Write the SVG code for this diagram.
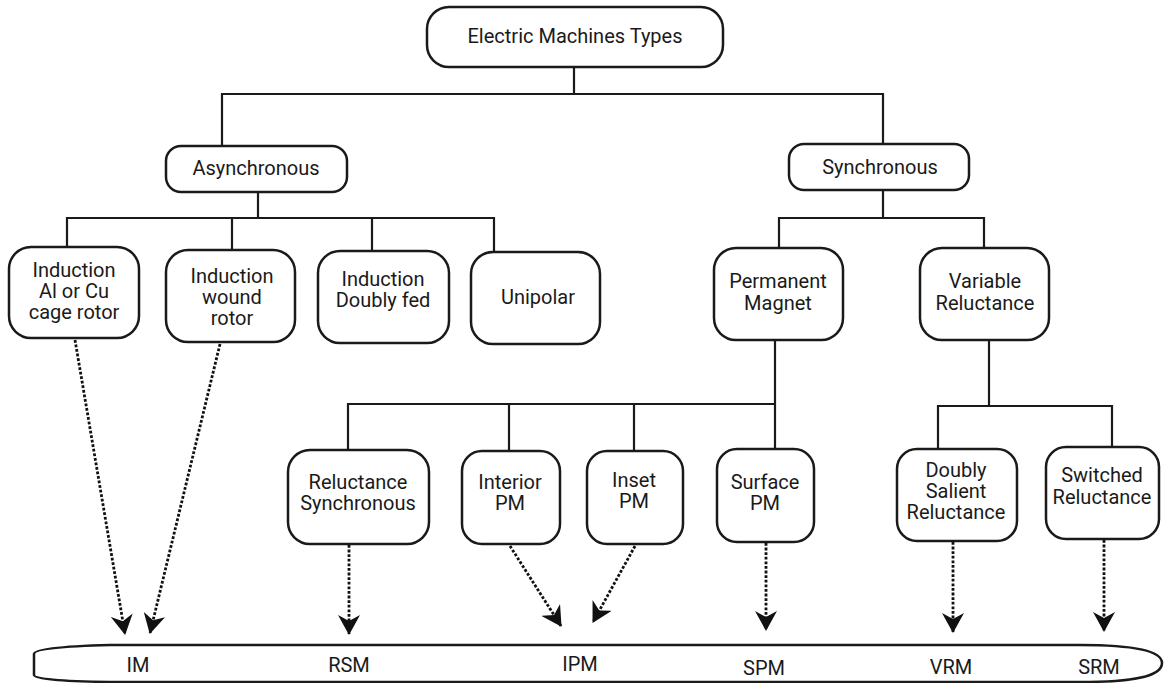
<svg xmlns="http://www.w3.org/2000/svg" width="1164" height="683" viewBox="0 0 1164 683">
<defs>
<style>
.box{fill:#fff;stroke:#1a1a1a;stroke-width:2.5}
.t{font-family:Roboto,"Liberation Sans",sans-serif;font-size:20px;fill:#1a1a1a;text-anchor:middle}
.ln{fill:none;stroke:#1a1a1a;stroke-width:2.2}
.dot{fill:none;stroke:#111;stroke-width:2.8;stroke-dasharray:2.8 1.8;marker-end:url(#ah)}
</style>
<marker id="ah" viewBox="0 0 20 22" refX="19" refY="11" markerWidth="20" markerHeight="22" markerUnits="userSpaceOnUse" orient="auto">
<path d="M0,0 L20,11 L0,22 L6,11 Z" fill="#111"/>
</marker>
</defs>
<rect width="1164" height="683" fill="#fff"/>

<g id="connectors">
<path class="ln" d="M574,67 V94 M222,146 V94 H883 V144"/>
<path class="ln" d="M258,192 V218 M67,247 V218 H494 V252 M232,218 V250 M372,218 V251"/>
<path class="ln" d="M883,190 V218 M779,248 V218 H984 V248"/>
<path class="ln" d="M775,340 V449 M348,450 V404 H775 M509,404 V451 M634,404 V451"/>
<path class="ln" d="M989,340 V406 M938,449 V406 H1112 V447"/>
<path class="dot" d="M75,340 L125,634"/>
<path class="dot" d="M220,344 L150,633"/>
<path class="dot" d="M349,545 L349,634"/>
<path class="dot" d="M510,546 L561,626"/>
<path class="dot" d="M635,546 L593,622"/>
<path class="dot" d="M766,543 L766,630"/>
<path class="dot" d="M953,542 L953,632"/>
<path class="dot" d="M1104,540 L1104,631"/>
</g>

<g id="n-root"><rect class="box" x="427" y="7" width="296" height="60" rx="22"/><text class="t" x="575" y="43">Electric Machines Types</text></g>
<g id="n-async"><rect class="box" x="166" y="146" width="181" height="46" rx="15"/><text class="t" x="256" y="175">Asynchronous</text></g>
<g id="n-sync"><rect class="box" x="789" y="144" width="180" height="46" rx="15"/><text class="t" x="880" y="174">Synchronous</text></g>

<g id="n-ind-cage"><rect class="box" x="9" y="247" width="130" height="91" rx="22"/><text class="t" x="74" y="277">Induction</text><text class="t" x="74" y="298">Al or Cu</text><text class="t" x="74" y="319">cage rotor</text></g>
<g id="n-ind-wound"><rect class="box" x="166" y="250" width="129" height="92" rx="22"/><text class="t" x="232" y="283">Induction</text><text class="t" x="232" y="304">wound</text><text class="t" x="232" y="325">rotor</text></g>
<g id="n-ind-dfed"><rect class="box" x="318" y="251" width="131" height="92" rx="22"/><text class="t" x="383" y="286">Induction</text><text class="t" x="383" y="307">Doubly fed</text></g>
<g id="n-unipolar"><rect class="box" x="471" y="252" width="129" height="92" rx="22"/><text class="t" x="538" y="304">Unipolar</text></g>

<g id="n-pm"><rect class="box" x="714" y="248" width="129" height="92" rx="22"/><text class="t" x="778" y="288">Permanent</text><text class="t" x="778" y="310">Magnet</text></g>
<g id="n-vr"><rect class="box" x="920" y="248" width="129" height="92" rx="22"/><text class="t" x="985" y="288">Variable</text><text class="t" x="985" y="310">Reluctance</text></g>

<g id="n-relsync"><rect class="box" x="288" y="450" width="141" height="94" rx="22"/><text class="t" x="358" y="489">Reluctance</text><text class="t" x="358" y="510">Synchronous</text></g>
<g id="n-interior"><rect class="box" x="462" y="451" width="98" height="93" rx="20"/><text class="t" x="510" y="489">Interior</text><text class="t" x="510" y="510">PM</text></g>
<g id="n-inset"><rect class="box" x="587" y="451" width="96" height="93" rx="20"/><text class="t" x="634" y="487">Inset</text><text class="t" x="634" y="508">PM</text></g>
<g id="n-surface"><rect class="box" x="717" y="449" width="97" height="93" rx="20"/><text class="t" x="765" y="489">Surface</text><text class="t" x="765" y="510">PM</text></g>
<g id="n-dsr"><rect class="box" x="897" y="449" width="120" height="92" rx="20"/><text class="t" x="956" y="477">Doubly</text><text class="t" x="956" y="498">Salient</text><text class="t" x="956" y="519">Reluctance</text></g>
<g id="n-sr"><rect class="box" x="1046" y="447" width="113" height="92" rx="20"/><text class="t" x="1102" y="482">Switched</text><text class="t" x="1102" y="504">Reluctance</text></g>

<g id="n-bar">
<path class="box" d="M34,654 Q34,647 110,645 L1080,645 C1140,645 1162,652 1162,663 C1162,675 1140,682 1080,682 L110,682 Q34,681 34,675 Z"/>
<text class="t" x="138" y="672">IM</text>
<text class="t" x="349" y="672">RSM</text>
<text class="t" x="580" y="671">IPM</text>
<text class="t" x="764" y="675">SPM</text>
<text class="t" x="951" y="674">VRM</text>
<text class="t" x="1099" y="674">SRM</text>
</g>
</svg>
